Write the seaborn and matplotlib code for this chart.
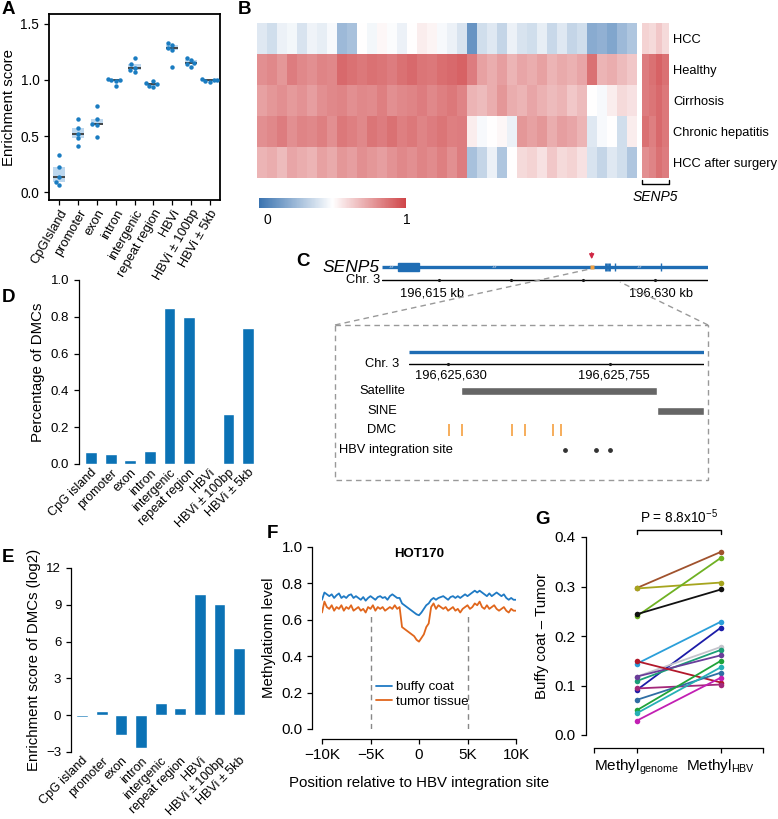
import numpy as np
import pandas as pd
import matplotlib
matplotlib.use("Agg")
import matplotlib.pyplot as plt
import seaborn as sns
from matplotlib.colors import LinearSegmentedColormap
from matplotlib.patches import Rectangle

sns.set_theme(style="ticks")
plt.rcParams["font.family"] = ["Liberation Sans", "DejaVu Sans"]
plt.rcParams["mathtext.fontset"] = "custom"
plt.rcParams["mathtext.rm"] = "Liberation Sans"
plt.rcParams["mathtext.it"] = "Liberation Sans:italic"
plt.rcParams["axes.edgecolor"] = "black"
plt.rcParams["axes.linewidth"] = 0.9
plt.rcParams["xtick.color"] = "black"
plt.rcParams["ytick.color"] = "black"
plt.rcParams["text.color"] = "black"
plt.rcParams["axes.labelcolor"] = "black"
plt.rcParams["xtick.major.width"] = 0.9
plt.rcParams["ytick.major.width"] = 0.9
plt.rcParams["xtick.major.size"] = 3.5
plt.rcParams["ytick.major.size"] = 3.5

# ---------------- data ----------------
# A: enrichment score per sample
regions_a = ["CpGIsland", "promoter", "exon", "intron", "intergenic",
             "repeat region", "HBVi", "HBVi ± 100bp", "HBVi ± 5kb"]
score_cpg = [0.33, 0.22, 0.13, 0.09, 0.06]
score_promoter = [0.65, 0.57, 0.52, 0.48, 0.41]
score_exon = [0.77, 0.65, 0.61, 0.60, 0.49]
score_intron = [1.01, 1.00, 1.00, 0.99, 0.95]
score_intergenic = [1.20, 1.14, 1.11, 1.09, 1.07]
score_repeat = [0.99, 0.97, 0.96, 0.95, 0.94]
score_hbvi = [1.33, 1.31, 1.29, 1.27, 1.12]
score_hbvi100 = [1.20, 1.18, 1.15, 1.14, 1.12]
score_hbvi5k = [1.01, 1.00, 1.00, 0.99, 0.98]

# B: methylation heatmap
groups = ["HCC", "Healthy", "Cirrhosis", "Chronic hepatitis", "HCC after surgery"]
meth_hcc = [0.42, 0.38, 0.45, 0.47, 0.40, 0.46, 0.44, 0.48, 0.25, 0.28, 0.50, 0.47, 0.52,
            0.49, 0.45, 0.50, 0.55, 0.53, 0.48, 0.45, 0.40, 0.12, 0.38, 0.42, 0.35, 0.45,
            0.40, 0.38, 0.44, 0.36, 0.42, 0.35, 0.38, 0.20, 0.22, 0.18, 0.25, 0.30]
meth_healthy = [0.80, 0.82, 0.78, 0.85, 0.82, 0.80, 0.83, 0.82, 0.90, 0.88, 0.86, 0.88, 0.87,
                0.85, 0.88, 0.90, 0.87, 0.86, 0.89, 0.90, 0.92, 0.85, 0.75, 0.72, 0.76, 0.70,
                0.74, 0.72, 0.75, 0.70, 0.73, 0.71, 0.74, 0.88, 0.70, 0.72, 0.68, 0.65]
meth_cirrhosis = [0.75, 0.78, 0.80, 0.77, 0.79, 0.76, 0.80, 0.82, 0.83, 0.80, 0.82, 0.81, 0.84,
                  0.80, 0.82, 0.83, 0.85, 0.82, 0.84, 0.86, 0.83, 0.70, 0.68, 0.72, 0.78, 0.72,
                  0.70, 0.74, 0.71, 0.68, 0.70, 0.65, 0.68, 0.50, 0.48, 0.55, 0.60, 0.58]
meth_chronic = [0.80, 0.82, 0.85, 0.80, 0.83, 0.82, 0.84, 0.80, 0.86, 0.84, 0.82, 0.87, 0.85,
                0.88, 0.84, 0.86, 0.83, 0.85, 0.87, 0.84, 0.85, 0.55, 0.48, 0.50, 0.52, 0.45,
                0.78, 0.75, 0.78, 0.72, 0.76, 0.74, 0.70, 0.42, 0.48, 0.50, 0.38, 0.55]
meth_after = [0.70, 0.72, 0.68, 0.74, 0.72, 0.70, 0.75, 0.73, 0.78, 0.76, 0.80, 0.78, 0.76,
              0.79, 0.82, 0.80, 0.83, 0.81, 0.84, 0.80, 0.85, 0.28, 0.35, 0.45, 0.30, 0.50,
              0.60, 0.62, 0.58, 0.65, 0.60, 0.62, 0.58, 0.40, 0.35, 0.42, 0.38, 0.30]
senp5_hcc = [0.62, 0.60, 0.65, 0.60]
senp5_healthy = [0.85, 0.88, 0.92, 0.88]
senp5_cirrhosis = [0.85, 0.87, 0.90, 0.86]
senp5_chronic = [0.88, 0.84, 0.90, 0.86]
senp5_after = [0.80, 0.83, 0.88, 0.85]

# C: SENP5 gene track (kb) and zoomed region (bp)
chr_start_kb, chr_end_kb = 196611.0, 196633.7
exon_big_kb = (196612.1, 196613.6)
exon_small_kb = [196626.6, 196626.8, 196627.2, 196630.4]
chevron_kb = [196611.6, 196618.8, 196628.9]
chr_ticks_kb = [196615, 196620, 196625, 196630]
dmc_region_kb = 196625.6
zoom_start, zoom_end = 196625600, 196625827
zoom_ticks = [196625630, 196625755]
satellite_bp = (196625640, 196625791)
sine_bp = (196625791, 196625827)
dmc_bp = [196625631, 196625641, 196625679, 196625689, 196625711, 196625717]
hbv_bp = [196625720, 196625744, 196625755]

# D / E
regions_d = ["CpG island", "promoter", "exon", "intron", "intergenic",
             "repeat region", "HBVi", "HBVi ± 100bp", "HBVi ± 5kb"]
pct_dmc = [0.065, 0.057, 0.023, 0.07, 0.85, 0.80, 0.008, 0.27, 0.74]
enrich_dmc = [-0.12, 0.35, -1.6, -2.7, 1.0, 0.6, 9.9, 9.1, 5.5]

# F: methylation around HBV integration sites (HOT170)
buffy = [0.71, 0.75, 0.74, 0.73, 0.74, 0.72, 0.735, 0.745, 0.72, 0.73, 0.72, 0.735, 0.74,
         0.72, 0.73, 0.72, 0.71, 0.725, 0.705, 0.72, 0.73, 0.72, 0.71, 0.725, 0.73, 0.72,
         0.725, 0.71, 0.73, 0.74, 0.73, 0.72, 0.72, 0.69, 0.68, 0.67, 0.66, 0.65, 0.64,
         0.63, 0.625, 0.64, 0.66, 0.68, 0.69, 0.71, 0.72, 0.71, 0.72, 0.725, 0.73, 0.72,
         0.71, 0.725, 0.73, 0.72, 0.73, 0.72, 0.73, 0.74, 0.73, 0.74, 0.75, 0.76, 0.75,
         0.76, 0.75, 0.74, 0.73, 0.745, 0.73, 0.74, 0.75, 0.74, 0.73, 0.74, 0.72, 0.71,
         0.72, 0.71, 0.71]
tumor = [0.64, 0.70, 0.67, 0.66, 0.68, 0.65, 0.67, 0.66, 0.68, 0.65, 0.67, 0.66, 0.68,
         0.65, 0.66, 0.67, 0.65, 0.66, 0.64, 0.67, 0.66, 0.68, 0.65, 0.67, 0.66, 0.67,
         0.65, 0.66, 0.67, 0.66, 0.68, 0.66, 0.67, 0.56, 0.55, 0.54, 0.53, 0.52, 0.51,
         0.49, 0.48, 0.50, 0.52, 0.56, 0.58, 0.67, 0.69, 0.66, 0.68, 0.67, 0.66, 0.67,
         0.65, 0.66, 0.67, 0.65, 0.66, 0.64, 0.66, 0.67, 0.68, 0.66, 0.67, 0.69, 0.68,
         0.70, 0.67, 0.66, 0.68, 0.66, 0.67, 0.68, 0.66, 0.65, 0.66, 0.67, 0.65, 0.64,
         0.66, 0.65, 0.65]

# G: buffy coat - tumor difference per patient
diff_genome = [0.297, 0.296, 0.240, 0.244, 0.144, 0.091, 0.118, 0.109, 0.118, 0.149,
               0.094, 0.071, 0.050, 0.044, 0.029]
diff_hbv = [0.370, 0.308, 0.358, 0.294, 0.229, 0.217, 0.178, 0.172, 0.161, 0.106,
            0.102, 0.126, 0.150, 0.137, 0.116]
patient_colors = ["#a0522d", "#a6a51e", "#6fb123", "#111111", "#2b9fd9", "#1c1ca8",
                  "#c4c4cc", "#1b9e77", "#6a3d9a", "#b2182b", "#a3287a", "#2f6ea4",
                  "#1fa33a", "#25b0b5", "#c21fb3"]

BLUE = "#0b72b5"

# ---------------- figure ----------------
W, H = 778, 819
fig = plt.figure(figsize=(W / 100, H / 100), dpi=100)


def px_axes(l, t, r, b):
    return fig.add_axes([l / W, 1 - b / H, (r - l) / W, (b - t) / H])


# ---- A ----
a_scores = [score_cpg, score_promoter, score_exon, score_intron, score_intergenic,
            score_repeat, score_hbvi, score_hbvi100, score_hbvi5k]
df_a = pd.DataFrame({"region": np.repeat(regions_a, [len(s) for s in a_scores]),
                     "score": np.concatenate(a_scores)})
ax_a = px_axes(49, 14, 220, 200)
sns.boxplot(data=df_a, x="region", y="score", order=regions_a, ax=ax_a, whis=0,
            showcaps=False, showfliers=False, width=0.65,
            boxprops={"facecolor": "#bcd7ee", "edgecolor": "none", "linewidth": 0},
            whiskerprops={"linewidth": 0},
            medianprops={"color": "#3a3a3a", "linewidth": 1.3})
sns.swarmplot(data=df_a, x="region", y="score", order=regions_a, ax=ax_a,
              color="#1a7cc1", size=3.2)
ax_a.set_xlim(-0.55, 8.55)
ax_a.set_ylim(-0.071, 1.589)
ax_a.set_yticks([0, 0.5, 1.0, 1.5])
ax_a.set_yticklabels(["0.0", "0.5", "1.0", "1.5"], fontsize=9.8)
ax_a.set_xlabel("")
ax_a.set_ylabel("Enrichment score", fontsize=10.8, labelpad=3)
ax_a.tick_params(axis="x", labelsize=9.3, pad=2)
plt.setp(ax_a.get_xticklabels(), rotation=60, ha="right", rotation_mode="anchor")
for sp in ax_a.spines.values():
    sp.set_linewidth(1.3)

# ---- B ----
cmap = LinearSegmentedColormap.from_list("meth", ["#3a73b0", "#ffffff", "#cf4548"])
hm = pd.DataFrame([meth_hcc, meth_healthy, meth_cirrhosis, meth_chronic, meth_after],
                  index=groups)
hm_senp5 = pd.DataFrame([senp5_hcc, senp5_healthy, senp5_cirrhosis, senp5_chronic,
                         senp5_after], index=groups)
ax_b = px_axes(257, 23, 637, 178)
cax = px_axes(259, 198, 406, 208)
sns.heatmap(hm, ax=ax_b, cmap=cmap, vmin=0, vmax=1, cbar_ax=cax,
            cbar_kws={"orientation": "horizontal", "ticks": []},
            xticklabels=False, yticklabels=False)
ax_b.collections[0].colorbar.outline.set_visible(False)
ax_s = px_axes(642, 23, 669, 178)
sns.heatmap(hm_senp5, ax=ax_s, cmap=cmap, vmin=0, vmax=1, cbar=False,
            xticklabels=False, yticklabels=groups)
ax_s.yaxis.tick_right()
ax_s.tick_params(axis="y", length=0, labelsize=9.3, rotation=0, pad=3)
ax_s.plot([0.02, 0.02, 3.98, 3.98], [5.06, 5.19, 5.19, 5.06], color="black",
          lw=1, clip_on=False)
ax_s.text(2, 5.6, "SENP5", style="italic", ha="center", va="center", fontsize=10)

# ---- C ----
GENE_Y, CHR_Y = 267, 280
gene_blue = "#1f6db4"
ax_g = px_axes(382, 245, 708, 300)
ax_g.set_xlim(chr_start_kb, chr_end_kb)
ax_g.set_ylim(300, 245)
ax_g.axis("off")
ax_g.plot([chr_start_kb, chr_end_kb], [GENE_Y, GENE_Y], color=gene_blue, lw=2.4,
          solid_capstyle="butt")
ax_g.add_patch(Rectangle((exon_big_kb[0], GENE_Y - 4), exon_big_kb[1] - exon_big_kb[0], 8,
                         color=gene_blue))
ax_g.vlines(exon_small_kb, GENE_Y - 4, GENE_Y + 4, color=gene_blue, lw=[2, 2, 1, 1])
for c in chevron_kb:
    ax_g.text(c, GENE_Y, "»", ha="center", va="center", fontsize=6, color="#c8d4e4")
ax_g.plot(dmc_region_kb, GENE_Y, marker="s", ms=3, color="#f0a040", mec="none")
ax_g.annotate("", xy=(dmc_region_kb, GENE_Y - 5), xytext=(dmc_region_kb, GENE_Y - 17),
              arrowprops=dict(arrowstyle="-|>", color="#d02845", lw=1, mutation_scale=7))
ax_g.plot([chr_start_kb, chr_end_kb], [CHR_Y, CHR_Y], color="black", lw=1)
ax_g.plot(chr_ticks_kb, [CHR_Y] * len(chr_ticks_kb), "k.", ms=2.5)
ax_g.text(196614.5, 293, "196,615 kb", ha="center", va="center", fontsize=9.3)
ax_g.text(196630.4, 293, "196,630 kb", ha="center", va="center", fontsize=9.3)
ax_g.text(chr_start_kb - 0.15, GENE_Y, "SENP5", style="italic", ha="right",
          va="center", fontsize=12.5)
ax_g.text(chr_start_kb - 0.15, CHR_Y, "Chr. 3", ha="right", va="center", fontsize=9.3)

ax_z = px_axes(409, 340, 704, 465)
ax_z.set_xlim(zoom_start, zoom_end)
ax_z.set_ylim(465, 340)
ax_z.axis("off")
ax_z.plot([zoom_start, zoom_end], [352, 352], color=gene_blue, lw=2.4,
          solid_capstyle="butt")
ax_z.plot([zoom_start, zoom_end], [364, 364], color="black", lw=1)
ax_z.plot(zoom_ticks, [364, 364], "k.", ms=2.5)
ax_z.text(196625632, 376, "196,625,630", ha="center", va="center", fontsize=9.3)
ax_z.text(196625758, 376, "196,625,755", ha="center", va="center", fontsize=9.3)
ax_z.barh(391, satellite_bp[1] - satellite_bp[0], left=satellite_bp[0], height=8,
          color="#666666")
ax_z.barh(411, sine_bp[1] - sine_bp[0], left=sine_bp[0], height=8, color="#666666")
ax_z.vlines(dmc_bp, 424, 436, color="#f5a040", lw=1.2)
ax_z.scatter(hbv_bp, [450] * len(hbv_bp), s=6, color="#333333")

# ---- D ----
ax_d = px_axes(79, 280, 260, 464)
sns.barplot(x=regions_d, y=pct_dmc, color=BLUE, saturation=1, width=0.6, ax=ax_d)
ax_d.set_xlim(-0.61, 8.6)
ax_d.set_ylim(0, 1.0)
ax_d.set_yticks(np.arange(0, 1.01, 0.2))
ax_d.set_yticklabels(["0.0", "0.2", "0.4", "0.6", "0.8", "1.0"], fontsize=9.5)
sns.despine(ax=ax_d, bottom=True)
ax_d.tick_params(axis="x", length=0, labelsize=9, pad=2)
plt.setp(ax_d.get_xticklabels(), rotation=45, ha="right", rotation_mode="anchor")
ax_d.set_ylabel("Percentage of DMCs", fontsize=10.8)

# ---- E ----
ax_e = px_axes(71, 568, 251, 752)
sns.barplot(x=regions_d, y=enrich_dmc, color=BLUE, saturation=1, width=0.6, ax=ax_e)
ax_e.set_xlim(-0.56, 8.6)
ax_e.set_ylim(-3, 12)
ax_e.set_yticks([-3, 0, 3, 6, 9, 12])
ax_e.set_yticklabels(["\u22123", "0", "3", "6", "9", "12"], fontsize=9.5)
sns.despine(ax=ax_e, bottom=True)
ax_e.tick_params(axis="x", length=0, labelsize=9, pad=2)
plt.setp(ax_e.get_xticklabels(), rotation=45, ha="right", rotation_mode="anchor")
ax_e.set_ylabel("Enrichment score of DMCs (log2)", fontsize=10.8)

# ---- F ----
pos = np.linspace(-10000, 10000, len(buffy))
df_f = pd.DataFrame({"pos": np.concatenate([pos, pos]),
                     "level": buffy + tumor,
                     "sample": ["buffy coat"] * len(buffy) + ["tumor tissue"] * len(tumor)})
ax_f = px_axes(322, 547, 516, 729)
sns.lineplot(data=df_f, x="pos", y="level", hue="sample", ax=ax_f, lw=1.3,
             palette={"buffy coat": "#1f7ac4", "tumor tissue": "#e0661c"})
ax_f.vlines([-5000, 5000], 0, 0.64, colors="#888888", linestyles=(0, (4, 3)), lw=1)
ax_f.set_xlim(-10000, 10000)
ax_f.set_ylim(0, 1.0)
ax_f.set_yticks(np.arange(0, 1.01, 0.2))
ax_f.set_yticklabels(["0.0", "0.2", "0.4", "0.6", "0.8", "1.0"], fontsize=9.8)
ax_f.set_xticks([-10000, -5000, 0, 5000, 10000])
ax_f.set_xticklabels(["\u221210K", "\u22125K", "0", "5K", "10K"], fontsize=9.8)
sns.despine(ax=ax_f, offset=7)
ax_f.set_xlabel("Position relative to HBV integration site", fontsize=10.8, labelpad=10)
ax_f.set_ylabel("Methylationn level", fontsize=10.8)
ax_f.text(0, 0.96, "HOT170", ha="center", va="center", fontsize=9.5, weight="bold")
ax_f.legend(frameon=False, loc="center left", bbox_to_anchor=(0.25, 0.19),
            borderaxespad=0, handlelength=1.2, handletextpad=0.3, labelspacing=0.15,
            fontsize=9.6)

# ---- G ----
n_pat = len(diff_genome)
df_g = pd.DataFrame({"patient": list(range(n_pat)) * 2,
                     "x": [0] * n_pat + [1] * n_pat,
                     "diff": diff_genome + diff_hbv})
ax_gg = px_axes(594, 537, 763, 735)
sns.lineplot(data=df_g, x="x", y="diff", hue="patient", palette=patient_colors,
             marker="o", markersize=4, markeredgewidth=0, lw=1.3, legend=False, ax=ax_gg)
ax_gg.set_xlim(-0.51, 1.5)
ax_gg.set_ylim(0, 0.4)
ax_gg.set_yticks([0, 0.1, 0.2, 0.3, 0.4])
ax_gg.set_yticklabels(["0.0", "0.1", "0.2", "0.3", "0.4"], fontsize=9.8)
ax_gg.set_xticks([-0.51, 0, 1, 1.5])
ax_gg.set_xticklabels(["", r"Methyl$_{\mathrm{genome}}$", r"Methyl$_{\mathrm{HBV}}$", ""],
                      fontsize=9.8)
sns.despine(ax=ax_gg)
ax_gg.spines["left"].set_position(("outward", 6))
ax_gg.spines["bottom"].set_position(("outward", 9))
ax_gg.set_xlabel("")
ax_gg.set_ylabel("Buffy coat \u2013 Tumor", fontsize=10.8)
ax_gg.plot([0, 0, 1, 1], [0.406, 0.414, 0.414, 0.406], color="black", lw=1, clip_on=False)
ax_gg.text(0.5, 0.44, r"P = 8.8x10$^{-5}$", ha="center", va="center", fontsize=9.8)

# ---- overlay: panel letters, zoom box, track labels ----
ov = fig.add_axes([0, 0, 1, 1])
ov.set_xlim(0, W)
ov.set_ylim(H, 0)
ov.axis("off")
for letter, (lx, ly) in zip("ABCDEFG", [(8, 9), (245, 9), (303, 262), (9, 297),
                                        (8, 558), (272, 533), (543, 520)]):
    ov.text(lx, ly, letter, fontsize=13.5, weight="bold", ha="center", va="center")
ov.text(267, 220, "0", ha="center", va="center", fontsize=10)
ov.text(407, 220, "1", ha="center", va="center", fontsize=10)
ov.add_patch(Rectangle((335, 325), 373, 155, fill=False, ec="#999999", lw=1,
                       ls=(0, (4, 3))))
ov.plot([335, 590], [325, 269], color="#999999", lw=1, ls=(0, (4, 3)))
ov.plot([708, 620], [325, 282], color="#999999", lw=1, ls=(0, (4, 3)))
for lbl, ly in [("Chr. 3", 364), ("Satellite", 391), ("SINE", 411), ("DMC", 430)]:
    ov.text(382, ly, lbl, ha="center", va="center", fontsize=9.3)
ov.text(339, 450, "HBV integration site", ha="left", va="center", fontsize=9.3)

fig.savefig("out.png", dpi=100)
